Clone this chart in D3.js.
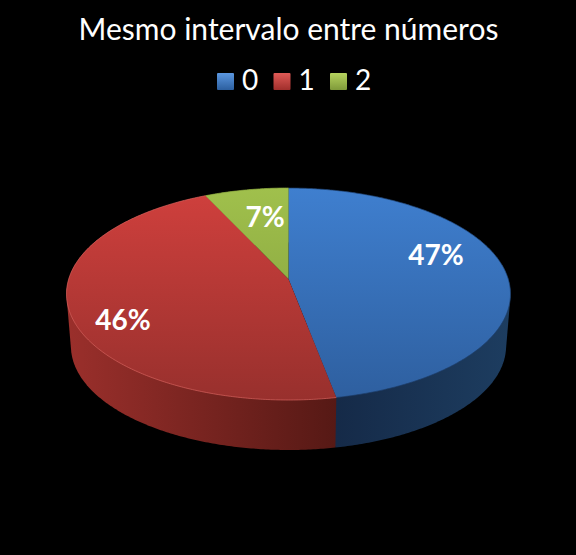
<!DOCTYPE html>
<html>
<head>
<meta charset="utf-8">
<script src="https://cdn.jsdelivr.net/npm/d3@7"></script>
<style>
  html, body { margin: 0; background: #000; }
  svg { display: block; }
  text { font-family: Lato, "Open Sans", sans-serif; fill: #fff; }
</style>
</head>
<body>
<div id="chart"></div>
<script>
const title = "Mesmo intervalo entre números";
const categories = ["0", "1", "2"];
const percents = [47, 46, 7];

const topStops = [["#3f7fcf", "#2e5f9f"], ["#d0403d", "#98302d"], ["#a0c04c", "#7f9a3a"]];
const wallStops = [["#152a48", "#1d3d60"], ["#9a2f2b", "#561915"], ["#5f7328", "#5f7328"]];
const rimColors = ["#1d3c66", "#d4615c", "#8aa63f"];
const swatchStops = [["#5b97e0", "#2c5f9f"], ["#e05a56", "#a02f2c"], ["#b6d35e", "#7f9a3a"]];
const labelCenters = [[436, 255], [123, 320], [265, 217]];

const width = 576;
const height = 555;

// pie drawn as a tilted disc: the slices meet at the apex, not at the ellipse centre
const apex = { x: 288.5, y: 279 };
const rimTop = 188;
const rimBottom = 400;
const rimHalfWidth = 222;
const depth = 52.4;
const bottomShrink = 0.98;

const svg = d3
  .select("#chart")
  .append("svg")
  .attr("width", width)
  .attr("height", height)
  .attr("viewBox", [0, 0, width, height]);

const defs = svg.append("defs");

const upper = apex.y - rimTop;
const lower = rimBottom - apex.y;
const k = (upper - lower) / (upper + lower);
const b = lower * (1 + k);
const a = rimHalfWidth * Math.sqrt(1 - k * k);

function project(angle, shrink = 1, drop = 0) {
  const u = Math.sin(angle);
  const v = -Math.cos(angle);
  const w = 1 + k * v;
  return [apex.x + (a * u * shrink) / w, apex.y + (b * v * shrink) / w + drop];
}

function rimPoints(d, shrink, drop) {
  const n = Math.ceil((d.endAngle - d.startAngle) / 0.01);
  return d3
    .range(n + 1)
    .map((i) =>
      project(d.startAngle + ((d.endAngle - d.startAngle) * i) / n, shrink, drop)
    );
}

function addGradient(id, stops, x1, y1, x2, y2) {
  const g = defs
    .append("linearGradient")
    .attr("id", id)
    .attr("gradientUnits", "userSpaceOnUse")
    .attr("x1", x1)
    .attr("y1", y1)
    .attr("x2", x2)
    .attr("y2", y2);
  g.append("stop").attr("offset", 0).attr("stop-color", stops[0]);
  g.append("stop").attr("offset", 1).attr("stop-color", stops[1]);
}

const wallRanges = [[336, 510], [70, 336], [200, 290]];
categories.forEach((_, i) => {
  addGradient(`top${i}`, topStops[i], 0, rimTop, 0, rimBottom);
  addGradient(`wall${i}`, wallStops[i], wallRanges[i][0], 0, wallRanges[i][1], 0);
});

const pie = d3.pie().sort(null).value((d) => d);
const slices = pie(percents);
const line = d3.line();

// side walls first, the top surface covers whatever is behind it
// hull so the wall also fills the notch at the widest points of the disc
svg
  .append("g")
  .selectAll("path")
  .data(slices)
  .join("path")
  .attr("fill", (d) => `url(#wall${d.index})`)
  .attr("d", (d) => {
    const pts = rimPoints(d, 1, 0).concat(rimPoints(d, bottomShrink, depth));
    return line(d3.polygonHull(pts)) + "Z";
  });

svg
  .append("g")
  .selectAll("path")
  .data(slices)
  .join("path")
  .attr("fill", (d) => `url(#top${d.index})`)
  .attr("d", (d) => line([[apex.x, apex.y]].concat(rimPoints(d, 1, 0))) + "Z");

// thin edge along the rim
svg
  .append("g")
  .selectAll("path")
  .data(slices)
  .join("path")
  .attr("fill", "none")
  .attr("stroke", (d) => rimColors[d.index])
  .attr("stroke-width", 1)
  .attr("stroke-opacity", 0.7)
  .attr("d", (d) => line(rimPoints(d, 1, 0)));

svg
  .append("g")
  .selectAll("text")
  .data(slices)
  .join("text")
  .attr("x", (d) => labelCenters[d.index][0])
  .attr("y", (d) => labelCenters[d.index][1])
  .attr("dy", "0.35em")
  .attr("text-anchor", "middle")
  .attr("font-size", 28)
  .attr("font-weight", 700)
  .text((d) => `${d.value}%`);

svg
  .append("text")
  .attr("x", 288.5)
  .attr("y", 40)
  .attr("text-anchor", "middle")
  .attr("font-size", 30)
  .text(title);

// legend
const legendX = d3.scalePoint().domain(categories).range([217, 330]);
const legend = svg
  .append("g")
  .selectAll("g")
  .data(categories)
  .join("g")
  .attr("transform", (d) => `translate(${legendX(d)},73)`);

categories.forEach((_, i) => {
  const g = defs
    .append("linearGradient")
    .attr("id", `swatch${i}`)
    .attr("x1", 0)
    .attr("y1", 0)
    .attr("x2", 0)
    .attr("y2", 1);
  g.append("stop").attr("offset", 0).attr("stop-color", swatchStops[i][0]);
  g.append("stop").attr("offset", 1).attr("stop-color", swatchStops[i][1]);
});

legend
  .append("rect")
  .attr("width", 17)
  .attr("height", 17)
  .attr("rx", 1)
  .attr("fill", (_, i) => `url(#swatch${i})`);

legend
  .append("text")
  .attr("x", 25)
  .attr("y", 17)
  .attr("font-size", 28)
  .text((d) => d);
</script>
</body>
</html>
